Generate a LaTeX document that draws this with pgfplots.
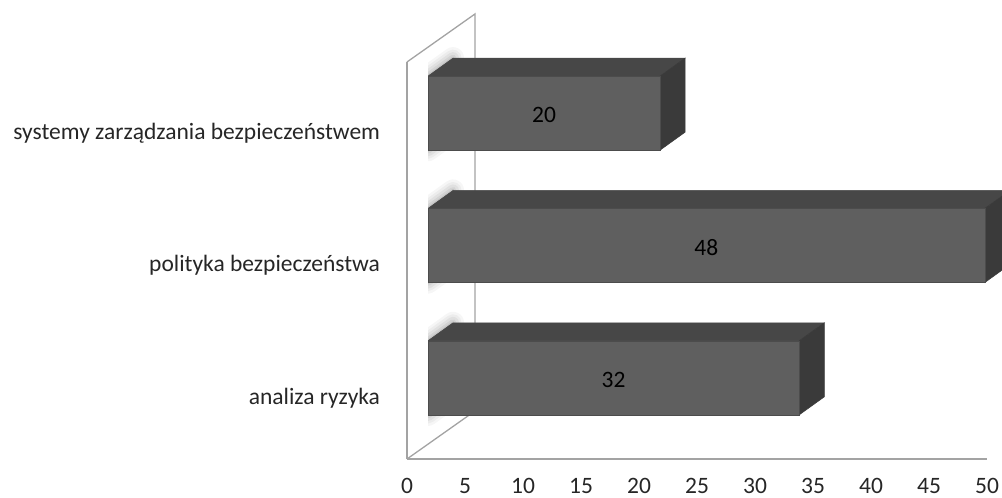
\documentclass[border=0pt]{standalone}
\usepackage{fontspec}
\setmainfont{Carlito}
\usepackage{pgfplots}
\pgfplotsset{compat=1.18}

\definecolor{frontgray}{HTML}{5F5F5F}
\definecolor{topgray}{HTML}{474747}
\definecolor{sidegray}{HTML}{3A3A3A}
\definecolor{wallgray}{HTML}{A3A3A3}

\pgfplotsset{
  shadowlayer/.style 2 args={draw=black, fill=black, opacity=#2, line width=#1, line join=round},
}

\begin{document}%
\fontsize{23.5}{28}\selectfont%
\begin{tikzpicture}
\path[use as bounding box] (0pt,0pt) rectangle (1002pt,498pt);

% Front plane: value axis, category names and the side wall frame
\begin{axis}[
  at={(407pt,39pt)}, anchor=south west, scale only axis,
  width=580pt, height=397pt,
  xmin=0, xmax=50, ymin=-0.5, ymax=2.5,
  axis x line*=bottom, axis y line*=left,
  axis line style={wallgray, line width=1.5pt, -},
  xtick={0,5,...,50}, ytick={0,1,2},
  yticklabels={analiza ryzyka, polityka bezpieczeństwa, systemy zarządzania bezpieczeństwem},
  major tick length=0pt,
  tick label style={font=\fontsize{23.5}{28}\selectfont, text=black!85},
  /pgf/number format/assume math mode=true,
  xticklabel style={yshift=-11pt},
  yticklabel style={xshift=-19pt, yshift=-5pt},
  clip=false,
]
\draw[wallgray, line width=1.3pt]
  (axis cs:0,2.5) -- (axis cs:5.862,2.863) -- (axis cs:5.862,-0.137) -- (axis cs:0,-0.5);
\end{axis}

% Bar plane, set back from the front plane
\begin{axis}[
  at={(428pt,54pt)}, anchor=south west, scale only axis,
  width=580pt, height=397pt,
  xmin=0, xmax=50, ymin=-0.5, ymax=2.5,
  hide axis,
  /pgf/number format/assume math mode=true,
]
% soft shadows of the bar ends on the wall
\pgfplotsinvokeforeach{{22pt}{0.035},{17pt}{0.04},{12pt}{0.05},{7pt}{0.06},{3pt}{0.07}}{
  \addplot[shadowlayer=#1]
    coordinates {(0,1.72) (0,2.28) (2.16,2.416) (2.16,1.856)} -- cycle;
  \addplot[shadowlayer=#1]
    coordinates {(0,0.72) (0,1.28) (2.16,1.416) (2.16,0.856)} -- cycle;
  \addplot[shadowlayer=#1]
    coordinates {(0,-0.28) (0,0.28) (2.16,0.416) (2.16,-0.144)} -- cycle;
}

% top faces
\addplot[fill=topgray, draw=topgray, line width=0.5pt]
  coordinates {(0,2.28) (20,2.28) (22.16,2.416) (2.16,2.416)} -- cycle;
\addplot[fill=topgray, draw=topgray, line width=0.5pt]
  coordinates {(0,1.28) (48,1.28) (50.16,1.416) (2.16,1.416)} -- cycle;
\addplot[fill=topgray, draw=topgray, line width=0.5pt]
  coordinates {(0,0.28) (32,0.28) (34.16,0.416) (2.16,0.416)} -- cycle;

% right faces
\addplot[fill=sidegray, draw=sidegray, line width=0.5pt]
  coordinates {(20,1.72) (20,2.28) (22.16,2.416) (22.16,1.856)} -- cycle;
\addplot[fill=sidegray, draw=sidegray, line width=0.5pt]
  coordinates {(48,0.72) (48,1.28) (50.16,1.416) (50.16,0.856)} -- cycle;
\addplot[fill=sidegray, draw=sidegray, line width=0.5pt]
  coordinates {(32,-0.28) (32,0.28) (34.16,0.416) (34.16,-0.144)} -- cycle;

% front faces with their values
\addplot[xbar, bar width=74pt, fill=frontgray, draw=frontgray!80!black, line width=0.6pt,
  visualization depends on={rawx \as \barlen},
  nodes near coords,
  nodes near coords style={anchor=center, shift={(axis direction cs:-\barlen/2,0)},
    yshift=-2pt, font=\fontsize{23.5}{28}\selectfont, text=black},
] coordinates {(32,0) (48,1) (20,2)};
\end{axis}
\end{tikzpicture}%
\end{document}
